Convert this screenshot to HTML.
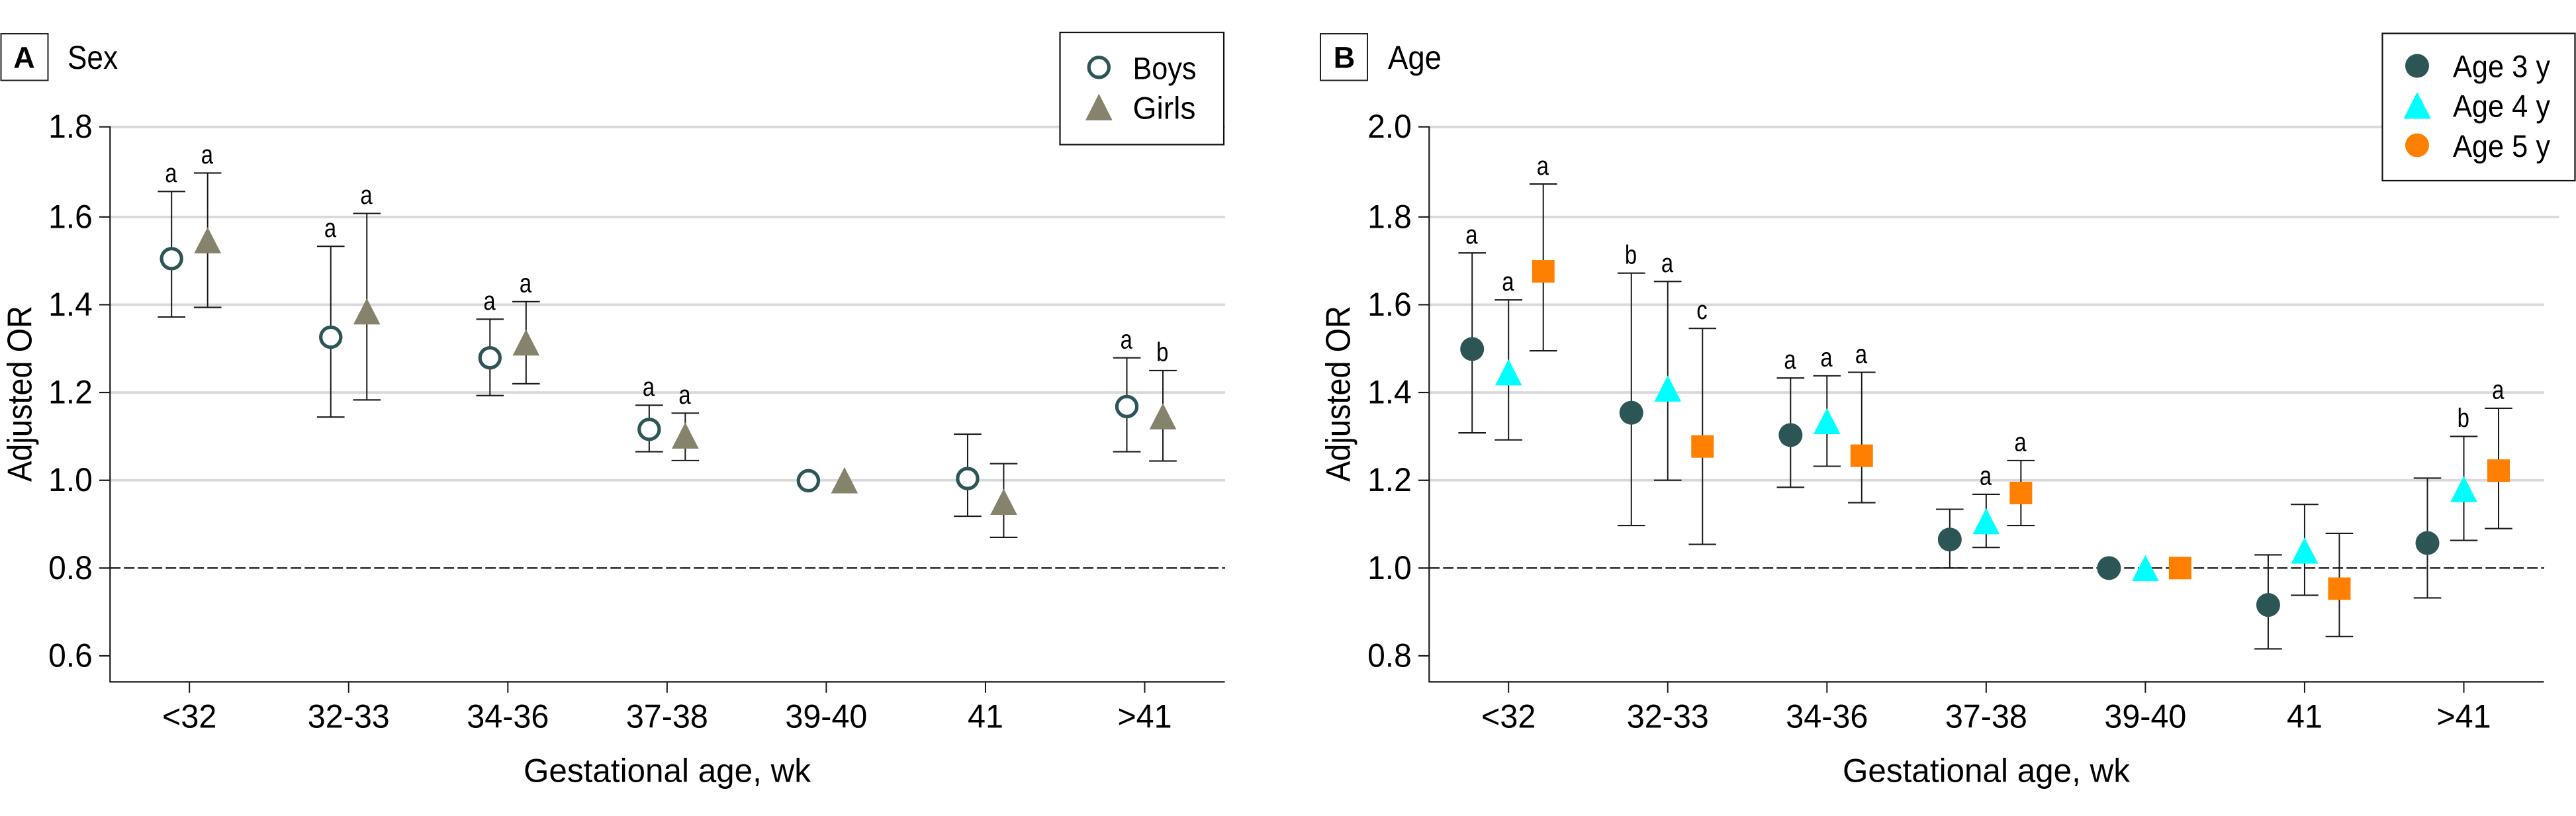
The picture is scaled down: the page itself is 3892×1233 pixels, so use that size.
<!DOCTYPE html>
<html lang="en">
<head>
<meta charset="utf-8">
<title>Adjusted OR by gestational age, sex and age</title>
<style>
  html, body { margin: 0; padding: 0; background: #fff; }
  svg { display: block; font-family: "Liberation Sans", sans-serif; fill: #000; }
</style>
</head>
<body>
<svg id="chart" xmlns="http://www.w3.org/2000/svg" width="3892" height="1233" viewBox="0 0 3892 1233">
  <rect x="0" y="0" width="3892" height="1233" fill="#ffffff"/>
  <g id="panel-a"></g>
  <g id="panel-b"></g>

  <g>
    <rect x="1.5" y="51" width="71" height="70.5" fill="#fff" stroke="#222" stroke-width="2"/>
    <text x="36.5" y="102.3" font-size="45" font-weight="bold" text-anchor="middle">A</text>
    <text x="102" y="104" font-size="50" textLength="76" lengthAdjust="spacingAndGlyphs">Sex</text>
  </g>
  <text transform="translate(47.5 728) rotate(-90)" font-size="52" textLength="266" lengthAdjust="spacingAndGlyphs">Adjusted OR</text>
  <text x="791" y="1181.5" font-size="50" textLength="434" lengthAdjust="spacingAndGlyphs">Gestational age, wk</text>

  <g>
    <rect x="1601.5" y="49" width="247.5" height="169.5" fill="#fff" stroke="#111" stroke-width="2.2"/>
    <circle cx="1660.3" cy="101.8" r="15.1" fill="#fff" stroke="#2c5555" stroke-width="5.2"/>
    <text x="1711.5" y="119.3" font-size="47" textLength="96" lengthAdjust="spacingAndGlyphs">Boys</text>
    <polygon points="1660.3,141.5 1680.7,181.8 1640,181.8" fill="#85836b"/>
    <text x="1711.5" y="179.3" font-size="47" textLength="95" lengthAdjust="spacingAndGlyphs">Girls</text>
  </g>

  <g>
    <rect x="1995" y="51" width="71" height="70.5" fill="#fff" stroke="#222" stroke-width="2"/>
    <text x="2031" y="102.3" font-size="45" font-weight="bold" text-anchor="middle">B</text>
    <text x="2097" y="104" font-size="50" textLength="81" lengthAdjust="spacingAndGlyphs">Age</text>
  </g>
  <text transform="translate(2039.5 728) rotate(-90)" font-size="52" textLength="266" lengthAdjust="spacingAndGlyphs">Adjusted OR</text>
  <text x="2784" y="1181.5" font-size="50" textLength="434" lengthAdjust="spacingAndGlyphs">Gestational age, wk</text>

  <g>
    <rect x="3599.5" y="50.5" width="291" height="222.5" fill="#fff" stroke="#111" stroke-width="2.2"/>
    <circle cx="3652" cy="99.5" r="18" fill="#2c5555"/>
    <text x="3706" y="116.5" font-size="47" textLength="147" lengthAdjust="spacingAndGlyphs">Age 3 y</text>
    <polygon points="3652,139 3673,179.5 3631.5,179.5" fill="#00ffff"/>
    <text x="3706" y="176.5" font-size="47" textLength="147" lengthAdjust="spacingAndGlyphs">Age 4 y</text>
    <circle cx="3652" cy="219.5" r="18" fill="#ff8000"/>
    <text x="3706" y="237" font-size="47" textLength="147" lengthAdjust="spacingAndGlyphs">Age 5 y</text>
  </g>
</svg>

<script>
const categories = ['<32', '32-33', '34-36', '37-38', '39-40', '41', '>41'];

const yTicksA = [0.6, 0.8, 1.0, 1.2, 1.4, 1.6, 1.8];
const gridValuesA = [1.0, 1.2, 1.4, 1.6, 1.8];
const referenceValueA = 0.8;

const boysMean = [1.505, 1.326, 1.279, 1.116, 0.999, 1.004, 1.168];
const boysHigh = [1.658, 1.533, 1.367, 1.171, null, 1.105, 1.279];
const boysLow = [1.372, 1.144, 1.193, 1.065, null, 0.918, 1.065];
const boysNotes = ['a', 'a', 'a', 'a', '', '', 'a'];

const girlsMean = [1.547, 1.385, 1.314, 1.102, 1.000, 0.951, 1.146];
const girlsHigh = [1.700, 1.608, 1.407, 1.153, null, 1.038, 1.250];
const girlsLow = [1.394, 1.183, 1.220, 1.045, null, 0.870, 1.044];
const girlsNotes = ['a', 'a', 'a', 'a', '', '', 'b'];

const yTicksB = [0.8, 1.0, 1.2, 1.4, 1.6, 1.8, 2.0];
const gridValuesB = [1.2, 1.4, 1.6, 1.8, 2.0];
const referenceValueB = 1.0;

const age3Mean = [1.499, 1.354, 1.303, 1.065, 1.000, 0.916, 1.057];
const age3High = [1.718, 1.672, 1.433, 1.134, null, 1.030, 1.205];
const age3Low = [1.308, 1.097, 1.184, 1.000, null, 0.816, 0.932];
const age3Notes = ['a', 'b', 'a', '', '', '', ''];

const age4Mean = [1.446, 1.409, 1.335, 1.107, 1.000, 1.040, 1.180];
const age4High = [1.611, 1.653, 1.438, 1.168, null, 1.145, 1.300];
const age4Low = [1.292, 1.200, 1.232, 1.047, null, 0.938, 1.063];
const age4Notes = ['a', 'a', 'a', 'a', '', '', 'b'];

const age5Mean = [1.676, 1.277, 1.256, 1.171, 1.000, 0.953, 1.222];
const age5High = [1.875, 1.546, 1.446, 1.245, null, 1.079, 1.364];
const age5Low = [1.495, 1.054, 1.149, 1.097, null, 0.844, 1.090];
const age5Notes = ['a', 'c', 'a', 'a', '', '', 'a'];

const SVG_NS = 'http://www.w3.org/2000/svg';

function make(parent, tag, attrs, content) {
  const el = document.createElementNS(SVG_NS, tag);
  for (const key in attrs) el.setAttribute(key, attrs[key]);
  if (content !== undefined) el.textContent = content;
  parent.appendChild(el);
  return el;
}

function squeeze(el, factor) {
  el.setAttribute('textLength', el.getComputedTextLength() * factor);
  el.setAttribute('lengthAdjust', 'spacingAndGlyphs');
}

function drawPanel(config) {
  const root = document.getElementById(config.rootId);
  const dx = config.dx;
  const axisLeft = 166.3 + dx;
  const axisRight = 1851 + dx;
  const axisBottom = 1030.3;
  const axisTop = 191.7;
  const yScale = v => 991 - (v - config.yMin) * 663.2;
  const xScale = i => 286.2 + dx + i * 240.55;
  const topValue = config.yTicks[config.yTicks.length - 1];
  const ruleY = v => (v === topValue ? axisTop : yScale(v));

  config.grid.forEach(v => {
    const extra = (config.longGrid === v) ? 22.5 : 0;
    const line = make(root, 'rect', { x: axisLeft, y: ruleY(v) - 1.9, width: axisRight - axisLeft + extra, height: 3.8, fill: '#d9d9d9' });
    
    
  });

  const refLine = make(root, 'line', { x1: axisLeft, x2: axisRight, y1: yScale(config.reference), y2: yScale(config.reference), stroke: '#222', 'stroke-width': 2.4, 'stroke-dasharray': '15.8 5.2' });
  
  

  const yAxis = make(root, 'line', { x1: axisLeft, x2: axisLeft, y1: axisTop - 1, y2: axisBottom, stroke: '#1a1a1a', 'stroke-width': 2.2 });
  
  

  const xAxis = make(root, 'line', { x1: axisLeft - 1, x2: axisRight - 0.5, y1: axisBottom, y2: axisBottom, stroke: '#2a2a2a', 'stroke-width': 2.4 });
  
  

  config.yTicks.forEach(v => {
    const y = ruleY(v);
    const tick = make(root, 'line', { x1: axisLeft - 16.3, x2: axisLeft, y1: y, y2: y, stroke: '#1a1a1a', 'stroke-width': 2.2 });
    
    
    const label = make(root, 'text', { x: axisLeft - 26.5, y: y + 16.5, 'font-size': 50, 'text-anchor': 'end' }, v.toFixed(1));
    
    
    squeeze(label, 0.96);
  });

  categories.forEach((c, i) => {
    const x = xScale(i);
    const tick = make(root, 'line', { x1: x, x2: x, y1: axisBottom, y2: 1046.8, stroke: '#1a1a1a', 'stroke-width': 2 });
    
    
    const label = make(root, 'text', { x: x, y: 1099.3, 'font-size': 50, 'text-anchor': 'middle' }, c);
    
    
    squeeze(label, 0.97);
  });

  config.series.forEach(s => {
    const group = make(root, 'g', {});
    
    
    s.mean.forEach((m, i) => {
      const x = xScale(i) + s.offset;
      const yMean = yScale(m);
      const hi = s.high[i];
      const lo = s.low[i];
      if (hi !== null && lo !== null) {
        const stem = make(group, 'line', { x1: x, x2: x, y1: yScale(hi), y2: yScale(lo), stroke: '#1a1a1a', 'stroke-width': 2 });
        
        
        const capTop = make(group, 'line', { x1: x - 20.8, x2: x + 20.8, y1: yScale(hi), y2: yScale(hi), stroke: '#1a1a1a', 'stroke-width': 2.1 });
        
        
        const capBottom = make(group, 'line', { x1: x - 20.8, x2: x + 20.8, y1: yScale(lo), y2: yScale(lo), stroke: '#1a1a1a', 'stroke-width': 2.1 });
        
        
      }
      if (s.notes[i]) {
        const note = make(group, 'text', { x: x - 0.8, y: yScale(hi) - 14.3, 'font-size': 40, 'text-anchor': 'middle' }, s.notes[i]);
        
        
        squeeze(note, 0.82);
      }
      let marker;
      if (s.shape === 'ring') {
        marker = make(group, 'circle', { cx: x, cy: yMean, r: 15.1, fill: '#fff', stroke: s.color, 'stroke-width': 5.2 });
      } else if (s.shape === 'circle') {
        marker = make(group, 'circle', { cx: x, cy: yMean, r: 18, fill: s.color });
      } else if (s.shape === 'triangle') {
        const pts = [[x, yMean - 19.8], [x + 20.3, yMean + 19.8], [x - 20.3, yMean + 19.8]].map(p => p.join(',')).join(' ');
        marker = make(group, 'polygon', { points: pts, fill: s.color });
      } else {
        marker = make(group, 'rect', { x: x - 17, y: yMean - 17, width: 34, height: 34, fill: s.color });
      }
      
      
    });
  });
}

drawPanel({
  rootId: 'panel-a',
  dx: 0,
  yMin: 0.6,
  yTicks: yTicksA,
  grid: gridValuesA,
  reference: referenceValueA,
  series: [
    { name: 'boys', shape: 'ring', color: '#2c5555', offset: -27, mean: boysMean, high: boysHigh, low: boysLow, notes: boysNotes },
    { name: 'girls', shape: 'triangle', color: '#85836b', offset: 27.5, mean: girlsMean, high: girlsHigh, low: girlsLow, notes: girlsNotes }
  ]
});

drawPanel({
  rootId: 'panel-b',
  dx: 1993,
  yMin: 0.8,
  yTicks: yTicksB,
  grid: gridValuesB,
  longGrid: 1.8,
  reference: referenceValueB,
  series: [
    { name: 'age-3', shape: 'circle', color: '#2c5555', offset: -55, mean: age3Mean, high: age3High, low: age3Low, notes: age3Notes },
    { name: 'age-4', shape: 'triangle', color: '#00ffff', offset: 0, mean: age4Mean, high: age4High, low: age4Low, notes: age4Notes },
    { name: 'age-5', shape: 'square', color: '#ff8000', offset: 52.5, mean: age5Mean, high: age5High, low: age5Low, notes: age5Notes }
  ]
});
</script>
</body>
</html>
